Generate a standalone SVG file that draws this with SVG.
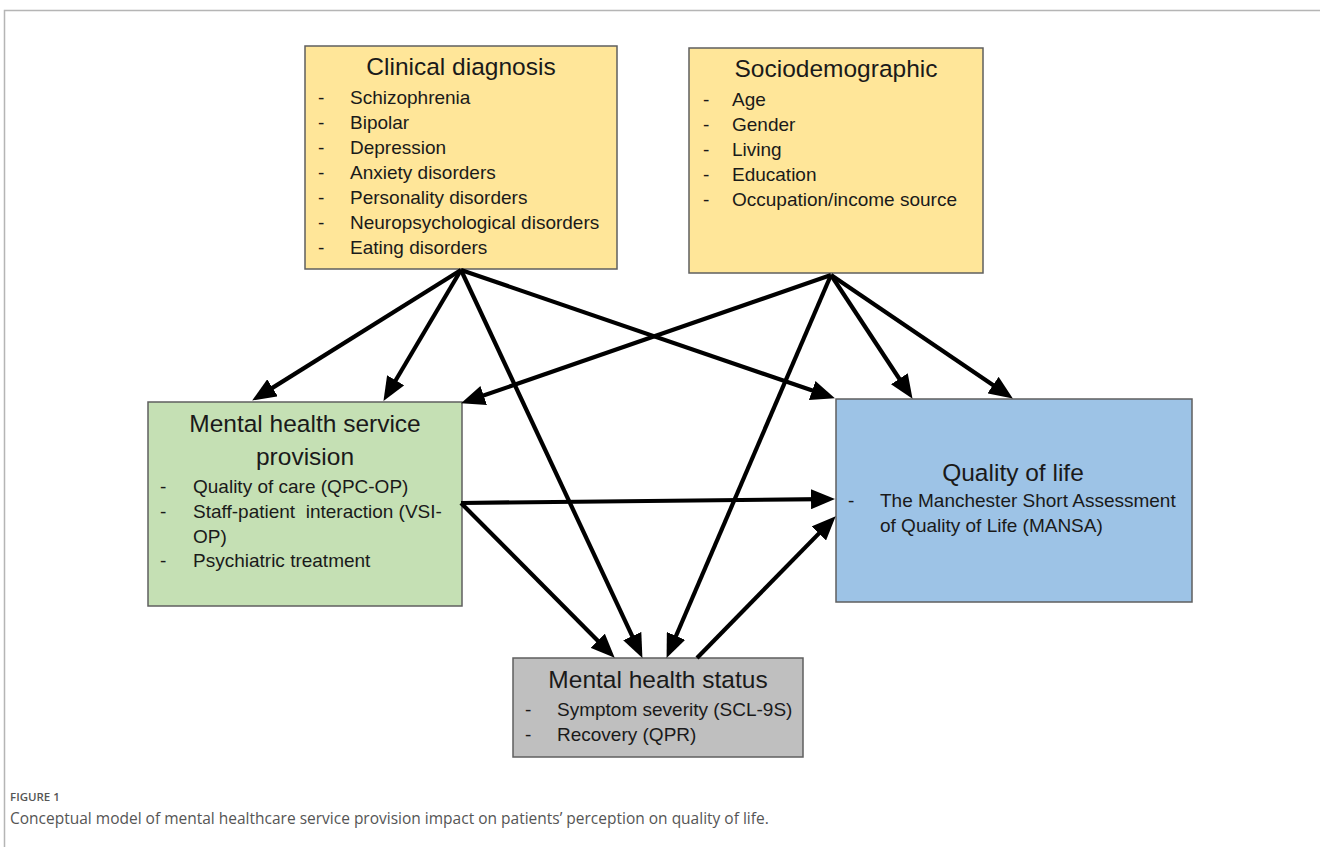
<svg xmlns="http://www.w3.org/2000/svg" width="1320" height="847" viewBox="0 0 1320 847">
<style>
.box{stroke:#5f5f5f;stroke-width:1.5}
.t{font-family:"Liberation Sans",Arial,sans-serif;fill:#1a1a1a}
.title{font-size:24.5px}
.item{font-size:19px}
.c{text-anchor:middle}
.ln{stroke:#000;stroke-width:4.2;fill:none;marker-end:url(#ah)}
.frame{stroke:#b5b5b5;stroke-width:1.5;fill:none}
.cap{font-family:"Open Sans","Liberation Sans",sans-serif;fill:#555}
</style>
<defs>
<marker id="ah" markerUnits="userSpaceOnUse" markerWidth="24" markerHeight="20" viewBox="0 0 24 20" refX="11" refY="10" orient="auto">
<path d="M0,0 L24,10 L0,20 z" fill="#000"/>
</marker>
</defs>
<rect width="1320" height="847" fill="#fff"/>
<path class="frame" d="M1320,10.5 H4.5 V847"/>

<g id="clinical">
<rect class="box" x="305" y="46" width="312" height="223" fill="#FFE699"/>
<text class="t title c" x="461" y="75">Clinical diagnosis</text>
<g class="t item">
<text x="318" y="104">-</text><text x="350" y="104">Schizophrenia</text>
<text x="318" y="129">-</text><text x="350" y="129">Bipolar</text>
<text x="318" y="154">-</text><text x="350" y="154">Depression</text>
<text x="318" y="179">-</text><text x="350" y="179">Anxiety disorders</text>
<text x="318" y="204">-</text><text x="350" y="204">Personality disorders</text>
<text x="318" y="229">-</text><text x="350" y="229">Neuropsychological disorders</text>
<text x="318" y="254">-</text><text x="350" y="254">Eating disorders</text>
</g>
</g>

<g id="sociodemographic">
<rect class="box" x="689" y="48" width="294" height="225" fill="#FFE699"/>
<text class="t title c" x="836" y="77">Sociodemographic</text>
<g class="t item">
<text x="703" y="106">-</text><text x="732" y="106">Age</text>
<text x="703" y="131">-</text><text x="732" y="131">Gender</text>
<text x="703" y="156">-</text><text x="732" y="156">Living</text>
<text x="703" y="181">-</text><text x="732" y="181">Education</text>
<text x="703" y="206">-</text><text x="732" y="206">Occupation/income source</text>
</g>
</g>

<g id="service">
<rect class="box" x="148" y="402" width="314" height="204" fill="#C5E0B4"/>
<text class="t title c" x="305" y="432">Mental health service</text>
<text class="t title c" x="305" y="465">provision</text>
<g class="t item">
<text x="160" y="493">-</text><text x="193" y="493">Quality of care (QPC-OP)</text>
<text x="160" y="518">-</text><text x="193" y="518">Staff-patient&#160; interaction (VSI-</text>
<text x="193" y="543">OP)</text>
<text x="160" y="567">-</text><text x="193" y="567">Psychiatric treatment</text>
</g>
</g>

<g id="qol">
<rect class="box" x="836" y="399" width="356" height="203" fill="#9DC3E6"/>
<text class="t title c" x="1013" y="481">Quality of life</text>
<g class="t item">
<text x="848" y="507">-</text><text x="880" y="507">The Manchester Short Assessment</text>
<text x="880" y="532">of Quality of Life (MANSA)</text>
</g>
</g>

<g id="status">
<rect class="box" x="513" y="658" width="290" height="99" fill="#BFBFBF"/>
<text class="t title c" x="658" y="688">Mental health status</text>
<g class="t item">
<text x="525" y="716">-</text><text x="557" y="716">Symptom severity (SCL-9S)</text>
<text x="525" y="741">-</text><text x="557" y="741">Recovery (QPR)</text>
</g>
</g>

<g id="connectors">
<line class="ln" x1="461" y1="270" x2="263.2" y2="393.6"/>
<line class="ln" x1="461" y1="270" x2="390.1" y2="389.7"/>
<line class="ln" x1="461" y1="270" x2="636.9" y2="646.1"/>
<line class="ln" x1="461" y1="270" x2="822.6" y2="394.1"/>
<line class="ln" x1="831" y1="275" x2="473.3" y2="399.1"/>
<line class="ln" x1="831" y1="275" x2="671.7" y2="646"/>
<line class="ln" x1="831" y1="275" x2="905.4" y2="388"/>
<line class="ln" x1="831" y1="275" x2="1002.1" y2="391.3"/>
<line class="ln" x1="461" y1="503" x2="822" y2="499.1"/>
<line class="ln" x1="461" y1="503" x2="605.5" y2="648.5"/>
<line class="ln" x1="697" y1="658" x2="826.6" y2="525.6"/>
</g>

<g id="caption">
<text class="cap" x="10" y="801" font-size="11.5" font-weight="600" fill="#666">FIGURE 1</text>
<text class="cap" x="10" y="824" font-size="15.5">Conceptual model of mental healthcare service provision impact on patients’ perception on quality of life.</text>
</g>
</svg>
